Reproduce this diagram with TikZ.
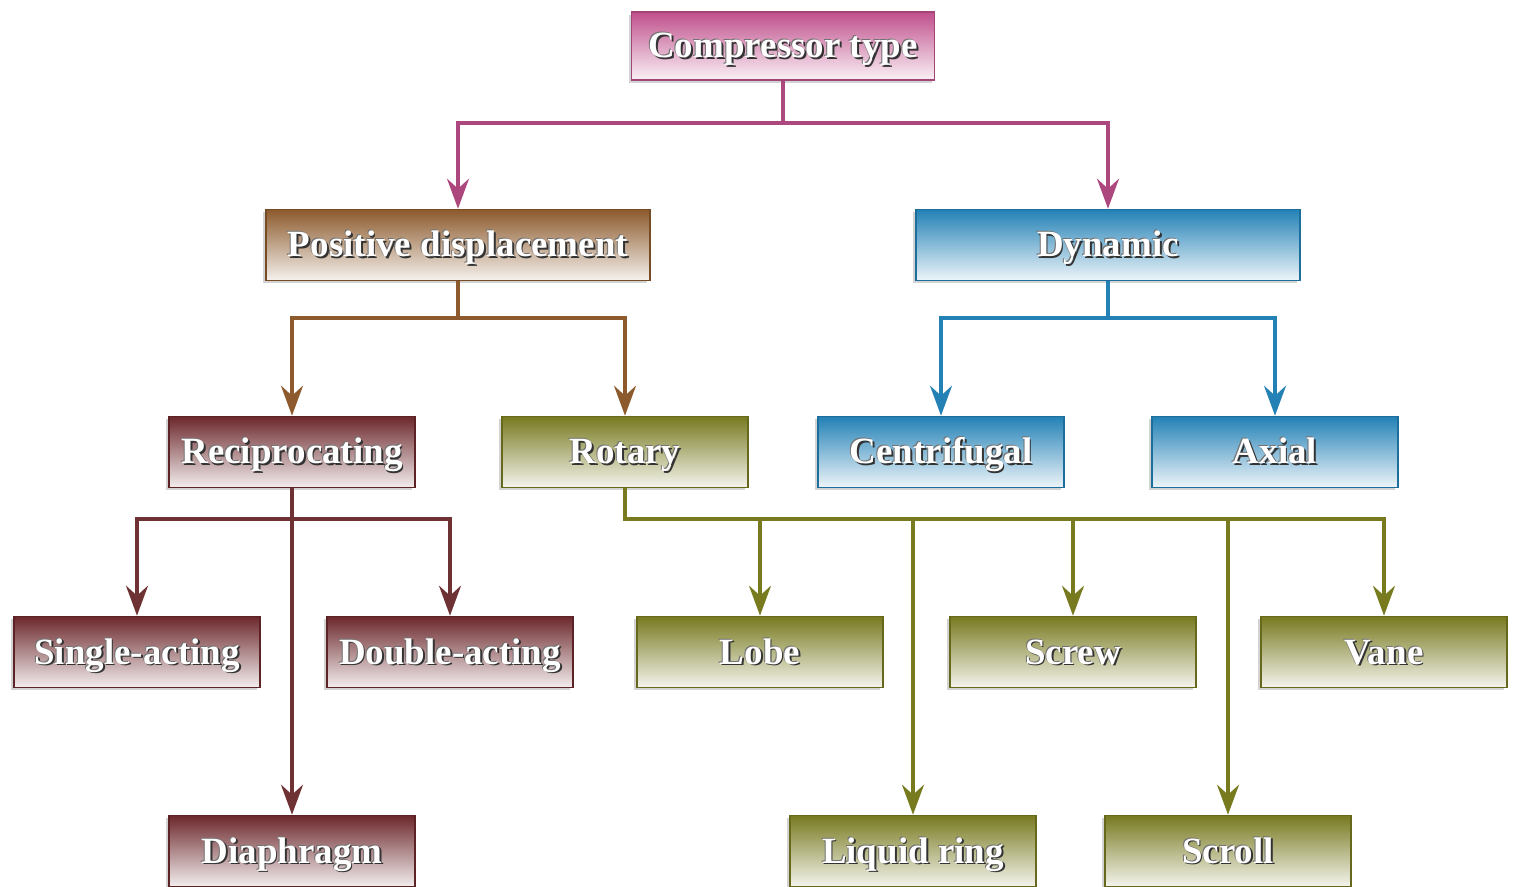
\documentclass[tikz,border=0pt]{standalone}
\usepackage{fontspec}
\setmainfont{Liberation Serif}
\usetikzlibrary{arrows.meta,shadows}
\definecolor{pinkc}{HTML}{C0508C}
\definecolor{brownc}{HTML}{8C5A2C}
\definecolor{bluec}{HTML}{2381B6}
\definecolor{maroonc}{HTML}{6C282C}
\definecolor{olivec}{HTML}{787A20}
\newcommand{\glow}[1]{\leavevmode\rlap{\color{black!80}\kern0.9pt\raisebox{-0.9pt}{#1}}\rlap{\color{black!55}\kern-0.5pt\raisebox{0.5pt}{#1}}#1}
\begin{document}
\begin{tikzpicture}[x=0.5pt, y=-0.5pt,
    box/.style={rectangle, minimum width=123pt, minimum height=35.5pt, inner sep=0pt,
      text height=12pt, text depth=0pt,
      text=white, font=\fontsize{18.5}{20}\selectfont\bfseries, line width=0.8pt,
      drop shadow={shadow xshift=-1.4pt, shadow yshift=-1.4pt, opacity=0.35}},
    pinkbox/.style={box, draw=pinkc!85!black, top color=pinkc, bottom color=pinkc!8},
    brownbox/.style={box, draw=brownc!85!black, top color=brownc, bottom color=brownc!8},
    bluebox/.style={box, draw=bluec!85!black, top color=bluec, bottom color=bluec!8},
    maroonbox/.style={box, draw=maroonc!85!black, top color=maroonc, bottom color=maroonc!8},
    olivebox/.style={box, draw=olivec!85!black, top color=olivec, bottom color=olivec!8},
    conn/.style={line width=1.6pt, -{Stealth[length=15pt, width=11pt, inset=5pt]}}]
  \useasboundingbox (0,0) rectangle (1516,887);
  \node[pinkbox, minimum width=151.5pt, minimum height=34pt] (ctype) at (783,46) {\glow{Compressor type}};
  \node[brownbox, minimum width=192pt] (posdisp) at (458,245) {\glow{Positive displacement}};
  \node[bluebox, minimum width=192pt] (dynamic) at (1108,245) {\glow{Dynamic}};
  \node[maroonbox] (recip) at (292,452) {\glow{Reciprocating}};
  \node[olivebox] (rotary) at (625,452) {\glow{Rotary}};
  \node[bluebox] (centri) at (941,452) {\glow{Centrifugal}};
  \node[bluebox] (axial) at (1275,452) {\glow{Axial}};
  \node[maroonbox] (single) at (137,652) {\glow{Single-acting}};
  \node[maroonbox] (double) at (450,652) {\glow{Double-acting}};
  \node[olivebox] (lobe) at (760,652) {\glow{Lobe}};
  \node[olivebox] (screw) at (1073,652) {\glow{Screw}};
  \node[olivebox] (vane) at (1384,652) {\glow{Vane}};
  \node[maroonbox] (diaph) at (292,851) {\glow{Diaphragm}};
  \node[olivebox] (liquid) at (913,851) {\glow{Liquid ring}};
  \node[olivebox] (scroll) at (1228,851) {\glow{Scroll}};

  \coordinate (cbus) at (783,123);
  \coordinate (pbus) at (458,318);
  \coordinate (dbus) at (1108,318);
  \coordinate (rbus) at (292,519);
  \coordinate (obus) at (625,519);

  \draw[conn, pinkc!90!black] (ctype) -- (cbus) -| (posdisp);
  \draw[conn, pinkc!90!black] (cbus) -| (dynamic);
  \draw[conn, brownc] (posdisp) -- (pbus) -| (recip);
  \draw[conn, brownc] (pbus) -| (rotary);
  \draw[conn, bluec] (dynamic) -- (dbus) -| (centri);
  \draw[conn, bluec] (dbus) -| (axial);
  \draw[conn, maroonc!90!gray] (recip) -- (diaph);
  \draw[conn, maroonc!90!gray] (rbus) -| (single);
  \draw[conn, maroonc!90!gray] (rbus) -| (double);
  \draw[conn, olivec] (rotary) -- (obus) -| (vane);
  \draw[conn, olivec] (obus) -| (lobe);
  \draw[conn, olivec] (obus) -| (liquid);
  \draw[conn, olivec] (obus) -| (screw);
  \draw[conn, olivec] (obus) -| (scroll);
\end{tikzpicture}
\end{document}
